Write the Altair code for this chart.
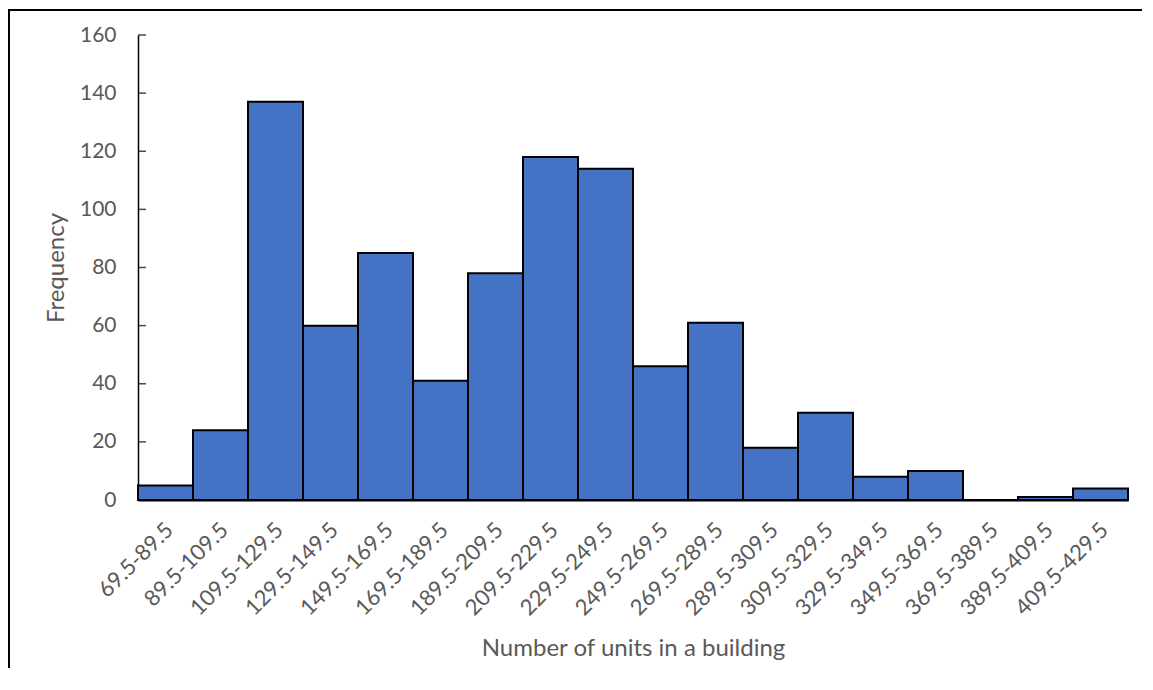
import altair as alt
import pandas as pd

bins = ["69.5-89.5", "89.5-109.5", "109.5-129.5", "129.5-149.5", "149.5-169.5",
        "169.5-189.5", "189.5-209.5", "209.5-229.5", "229.5-249.5", "249.5-269.5",
        "269.5-289.5", "289.5-309.5", "309.5-329.5", "329.5-349.5", "349.5-369.5",
        "369.5-389.5", "389.5-409.5", "409.5-429.5"]
freq = [5, 24, 137, 60, 85, 41, 78, 118, 114, 46, 61, 18, 30, 8, 10, 0, 1, 4]
y_ticks = [0, 20, 40, 60, 80, 100, 120, 140, 160]

df = pd.DataFrame({"bin": bins, "freq": freq})
ticks_df = pd.DataFrame({"t": y_ticks})

FONT = "Lato"
GRAY = "#595959"

x_enc = alt.X("bin:N", sort=bins, title="Number of units in a building",
              scale=alt.Scale(paddingInner=0, paddingOuter=0),
              axis=alt.Axis(labelAngle=-45, labelAlign="right", labelBaseline="middle",
                            labelPadding=26, labelOffset=4, ticks=False, domainColor="black",
                            domainWidth=2, labelFontSize=22, labelColor=GRAY,
                            labelFont=FONT, titleFont=FONT, titleFontSize=24,
                            titleFontWeight="normal", titleColor=GRAY, titlePadding=17))
y_scale = alt.Scale(domain=[0, 160], nice=False)

bars = alt.Chart(df).mark_bar(color="#4472C4", stroke="black", strokeWidth=2).encode(
    x=x_enc,
    y=alt.Y("freq:Q", scale=y_scale, title="Frequency",
            axis=alt.Axis(values=y_ticks, ticks=False, grid=False, domainColor="black",
                          domainWidth=1.5, labelPadding=22, labelFontSize=21,
                          labelColor=GRAY, labelFont=FONT, titleFont=FONT,
                          titleFontSize=24, titleFontWeight="normal", titleColor=GRAY,
                          titlePadding=11)),
)

tick_marks = alt.Chart(ticks_df).mark_tick(orient="horizontal", color="black",
                                           thickness=1.5, size=8).encode(
    y=alt.Y("t:Q", scale=y_scale),
    x=alt.value(4),
)

top_line = alt.Chart(ticks_df).mark_rect(color="black", clip=False).encode(
    x=alt.value(-130), x2=alt.value(1004), y=alt.value(-26), y2=alt.value(-24)
)
left_line = alt.Chart(ticks_df).mark_rect(color="black", clip=False).encode(
    x=alt.value(-130), x2=alt.value(-128), y=alt.value(-26), y2=alt.value(660)
)

chart = alt.layer(top_line, left_line, bars, tick_marks).properties(
    width=990, height=465,
    autosize=alt.AutoSizeParams(type="none"),
    padding={"left": 130, "top": 27, "right": 14, "bottom": 168},
).configure_view(stroke=None)

chart.save("out.html", embed_options={"renderer": "svg", "actions": False})
